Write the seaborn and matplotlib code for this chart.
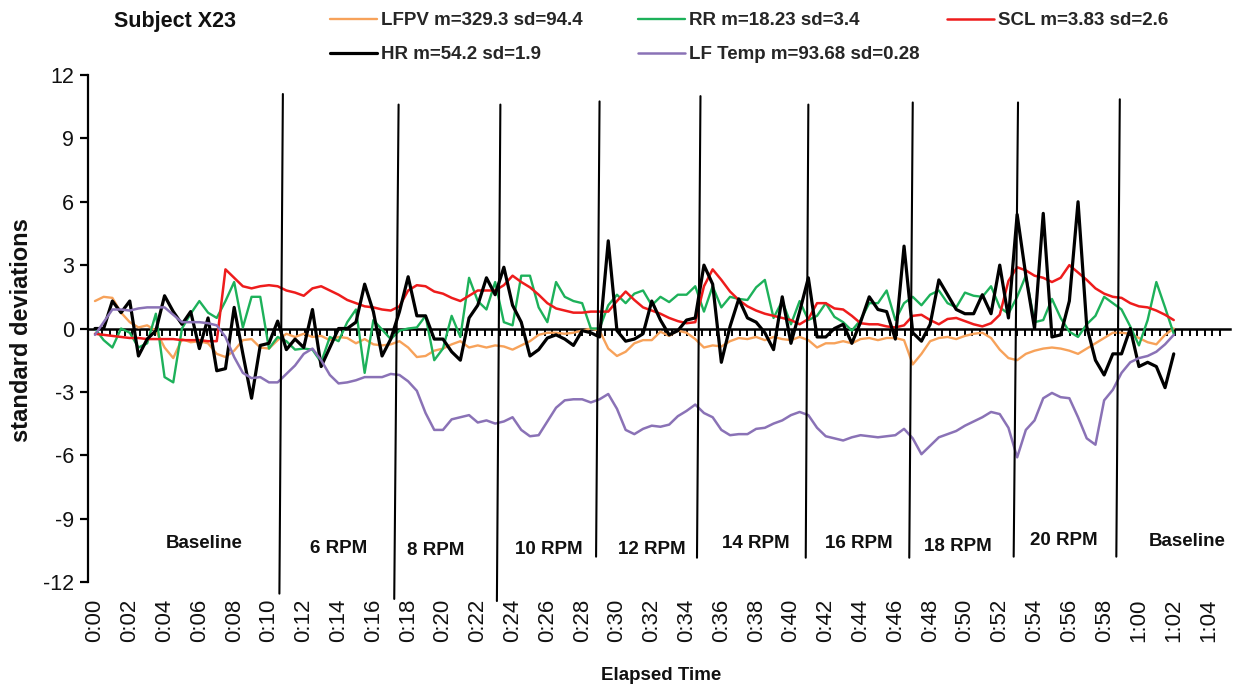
import numpy as np
import pandas as pd
import matplotlib
matplotlib.use("Agg")
import matplotlib.pyplot as plt
import seaborn as sns

# samples every half minute, 0:00 .. 1:02
STEP = 0.5

lfpv = [1.3, 1.5, 1.45, 0.75, 0.3, 0.05, 0.15, -0.1, -0.9, -1.4,
        -0.5, -0.65, -0.6, -0.7, -1.2, -1.35, -1.05, -0.55, -0.5, -0.9,
        -0.95, -0.55, -0.25, -0.4, -0.25, -0.4, -0.35, -0.55, -0.4, -0.45,
        -0.7, -0.5, -0.75, -0.8, -0.75, -0.6, -0.9, -1.35, -1.3, -1.05,
        -0.95, -0.75, -0.6, -0.9, -0.8, -0.9, -0.8, -0.85, -1.0, -0.8,
        -0.6, -0.3, -0.2, -0.2, -0.25, -0.2, -0.1, 0.0, -0.1, -0.95,
        -1.3, -1.1, -0.7, -0.55, -0.55, -0.15, -0.35, -0.1, -0.2, -0.5,
        -0.9, -0.8, -0.85, -0.6, -0.45, -0.5, -0.4, -0.55, -0.4, -0.5,
        -0.55, -0.4, -0.55, -0.9, -0.7, -0.7, -0.6, -0.7, -0.5, -0.45,
        -0.55, -0.45, -0.45, -0.55, -1.7, -1.2, -0.6, -0.45, -0.4, -0.5,
        -0.35, -0.25, -0.2, -0.45, -1.0, -1.4, -1.5, -1.2, -1.05, -0.95,
        -0.9, -0.95, -1.05, -1.2, -0.95, -0.7, -0.45, -0.2, -0.2, -0.25,
        -0.45, -0.65, -0.75, -0.3, 0.0]

rr = [0.0, -0.55, -0.9, 0.0, -0.2, -0.9, -0.7, 0.7, -2.3, -2.55,
      0.0, 0.7, 1.3, 0.75, 0.5, 1.3, 2.2, 0.05, 1.5, 1.5,
      -0.95, -0.4, -0.6, -1.0, -0.95, -1.0, -1.6, -0.4, -0.6, 0.3,
      0.9, -2.1, 0.4, -0.05, -0.5, -0.1, 0.0, 0.05, 0.6, -1.5,
      -0.95, 0.6, -0.4, 2.4, 1.3, 0.9, 2.2, 0.3, 0.15, 2.5,
      2.5, 1.0, 0.3, 2.2, 1.5, 1.3, 1.2, 0.0, 0.0, 1.1,
      1.6, 1.2, 1.65, 1.8, 1.1, 1.5, 1.25, 1.6, 1.6, 2.0,
      0.8, 2.0, 1.0, 1.5, 1.4, 1.35, 1.95, 2.3, 0.5, 1.3,
      0.2, 1.3, 0.4, 0.6, 1.2, 0.55, 0.3, -0.1, 0.4, 1.2,
      1.2, 1.8, 0.4, 1.2, 1.5, 1.1, 1.6, 1.8, 1.2, 1.0,
      1.7, 1.55, 1.5, 2.0, 1.0, 0.7, 1.5, 2.5, 0.3, 0.4,
      1.4, 0.5, -0.15, -0.4, 0.2, 0.6, 1.5, 1.2, 0.9, 0.1,
      -0.8, 0.4, 2.2, 1.0, -0.25]

scl = [-0.25, -0.3, -0.35, -0.4, -0.45, -0.45, -0.5, -0.5, -0.5, -0.5,
       -0.55, -0.55, -0.55, -0.6, -0.6, 2.8, 2.4, 2.0, 1.9, 2.0,
       2.05, 2.0, 1.8, 1.7, 1.55, 1.9, 2.0, 1.8, 1.6, 1.35,
       1.2, 1.05, 1.0, 0.9, 0.85, 1.05, 1.8, 2.05, 2.0, 1.75,
       1.65, 1.45, 1.3, 1.55, 1.8, 1.8, 1.8, 2.05, 2.5, 2.2,
       1.95, 1.6, 1.2, 0.95, 0.85, 0.75, 0.75, 0.8, 0.8, 0.8,
       1.3, 1.75, 1.35, 1.0, 0.85, 0.7, 0.5, 0.35, 0.25, 0.3,
       2.0, 2.8, 2.3, 1.75, 1.35, 1.05, 0.85, 0.7, 0.6, 0.5,
       0.4, 0.2, 0.45, 1.2, 1.2, 0.95, 0.9, 0.6, 0.25, 0.2,
       0.2, 0.1, 0.05, 0.15, 0.6, 0.65, 0.4, 0.2, 0.45, 0.5,
       0.35, 0.2, 0.1, 0.25, 0.65, 2.25, 2.9, 2.75, 2.5, 2.4,
       2.2, 2.4, 3.0, 2.65, 2.3, 1.9, 1.65, 1.5, 1.45, 1.2,
       1.05, 1.0, 0.85, 0.65, 0.4]

hr = [0.0, 0.0, 1.3, 0.75, 1.3, -1.3, -0.5, -0.1, 1.55, 0.8,
      0.2, 0.8, -0.95, 0.5, -2.0, -1.9, 1.0, -1.2, -3.3, -0.8,
      -0.7, 0.35, -1.0, -0.5, -0.9, 0.9, -1.8, -0.9, 0.0, 0.0,
      0.3, 2.1, 0.8, -1.3, -0.5, 0.8, 2.45, 0.6, 0.6, -0.5,
      -0.5, -1.1, -1.5, 0.5, 1.1, 2.4, 1.6, 2.9, 1.1, 0.3,
      -1.3, -1.0, -0.45, -0.3, -0.5, -0.8, -0.1, -0.2, -0.4, 4.15,
      -0.1, -0.6, -0.5, -0.25, 1.3, 0.4, -0.3, -0.1, 0.4, 0.5,
      3.0, 2.1, -1.6, 0.1, 1.4, 0.5, 0.3, -0.2, -1.0, 1.5,
      -0.7, 0.8, 2.4, -0.4, -0.4, 0.0, 0.2, -0.7, 0.3, 1.5,
      0.9, 0.8, -0.5, 3.9, -0.2, -0.6, 0.2, 2.3, 1.6, 0.9,
      0.7, 0.7, 1.6, 0.7, 3.0, 0.5, 5.4, 2.5, 0.0, 5.45,
      -0.4, -0.3, 1.3, 6.0, 0.1, -1.5, -2.2, -1.2, -1.2, 0.0,
      -1.8, -1.6, -1.8, -2.8, -1.2]

lf_temp = [-0.3, 0.3, 0.9, 0.9, 0.85, 0.95, 1.0, 1.0, 1.0, 0.65,
           0.3, 0.3, 0.3, 0.25, 0.15, -0.4, -1.35, -2.1, -2.35, -2.3,
           -2.55, -2.55, -2.15, -1.75, -1.2, -0.95, -1.5, -2.2, -2.6, -2.55,
           -2.45, -2.3, -2.3, -2.3, -2.15, -2.2, -2.5, -2.95, -4.0, -4.8,
           -4.8, -4.3, -4.2, -4.1, -4.45, -4.35, -4.5, -4.4, -4.2, -4.8,
           -5.1, -5.05, -4.4, -3.75, -3.4, -3.35, -3.35, -3.5, -3.35, -3.1,
           -3.8, -4.8, -5.0, -4.75, -4.6, -4.65, -4.55, -4.15, -3.9, -3.6,
           -4.0, -4.2, -4.8, -5.05, -5.0, -5.0, -4.75, -4.7, -4.5, -4.35,
           -4.1, -3.95, -4.1, -4.7, -5.1, -5.2, -5.3, -5.15, -5.05, -5.1,
           -5.15, -5.1, -5.05, -4.75, -5.2, -5.95, -5.55, -5.15, -5.0, -4.85,
           -4.6, -4.4, -4.2, -3.95, -4.05, -4.7, -6.1, -4.8, -4.35, -3.3,
           -3.05, -3.25, -3.3, -4.2, -5.2, -5.5, -3.4, -2.9, -2.1, -1.6,
           -1.4, -1.3, -1.1, -0.75, -0.3]

series = [lfpv, rr, scl, hr, lf_temp]
series_labels = ["LFPV m=329.3 sd=94.4", "RR m=18.23 sd=3.4",
                 "SCL m=3.83 sd=2.6", "HR m=54.2 sd=1.9",
                 "LF Temp m=93.68 sd=0.28"]
series_colors = ["#F7A25A", "#1DB15A", "#EE1C1C", "#000000", "#8A72B6"]
series_widths = [1.7, 1.7, 1.8, 2.3, 1.8]

# protocol phases: label positions and the hand drawn divider lines
phase_names = ["Baseline", "6 RPM", "8 RPM", "10 RPM", "12 RPM", "14 RPM",
               "16 RPM", "18 RPM", "20 RPM", "Baseline"]
phase_label_t = [6.3, 14.0, 19.6, 26.1, 32.0, 38.0, 43.9, 49.6, 55.7, 62.8]
phase_label_y = [-10.2, -10.4, -10.5, -10.45, -10.45, -10.2, -10.2, -10.3,
                 -10.05, -10.1]

divider_top_t = [10.8, 17.45, 23.3, 29.0, 34.8, 41.0, 47.0, 53.05, 58.9]
divider_bot_t = [10.6, 17.2, 23.1, 28.8, 34.6, 40.85, 46.8, 52.8, 58.7]
divider_top_y = [11.1, 10.6, 10.6, 10.75, 11.0, 10.6, 10.7, 10.7, 10.85]
divider_bot_y = [-12.55, -12.8, -12.9, -10.8, -10.85, -10.85, -10.85, -10.8,
                 -10.8]

xtick_minutes = list(range(0, 65, 2))
xtick_labels = ["{}:{:02d}".format(m // 60, m % 60) for m in xtick_minutes]
ytick_values = list(range(-12, 13, 3))

sns.set_theme(style="white")
plt.rcParams["font.family"] = ["Liberation Sans", "DejaVu Sans"]

fig = plt.figure(figsize=(12.36, 6.9), dpi=100)
ax = fig.add_axes([0.0712, 0.1565, 0.9239, 0.7348])

handles = []
for vals, lab, col, lw in zip(series, series_labels, series_colors,
                              series_widths):
    t = np.arange(len(vals)) * STEP
    sns.lineplot(x=t, y=vals, ax=ax, color=col, linewidth=lw,
                 label=lab, legend=False)
    handles.append(ax.lines[-1])

for tt, bt, ty, by in zip(divider_top_t, divider_bot_t,
                          divider_top_y, divider_bot_y):
    ax.plot([tt, bt], [ty, by], color="black", linewidth=1.5,
            clip_on=False, zorder=4)

for name, pt, py in zip(phase_names, phase_label_t, phase_label_y):
    ax.text(pt, py, name, ha="center", va="center", fontsize=13.5,
            fontweight="bold", color="#111111")

ax.set_xlim(-0.4, 65.23)
ax.set_ylim(-12, 12)

for side in ["top", "right", "bottom"]:
    ax.spines[side].set_visible(False)
ax.spines["left"].set_color("black")
ax.spines["left"].set_linewidth(1.6)

ax.set_yticks(ytick_values)
ax.set_yticklabels([str(v) for v in ytick_values])
ax.tick_params(axis="y", left=True, direction="out", length=6, width=1.6,
               color="black", labelsize=15.5, pad=4, labelcolor="#111111")

ax.set_xticks(xtick_minutes)
ax.set_xticklabels(xtick_labels, rotation=90)
ax.tick_params(axis="x", bottom=False, length=0, labelsize=16, pad=12,
               labelcolor="#111111")
ax.set_xlabel("")
ax.set_ylabel("")

# x axis line crosses at zero with small tick marks
zero_axis = ax.secondary_xaxis(0.5)
zero_axis.set_alignment("bottom")
zero_axis.set_xticks(np.arange(0.43, 65.0, 0.431))
zero_axis.tick_params(axis="x", bottom=True, direction="out", length=5,
                      width=1.4, color="black", labelbottom=False)
zero_axis.spines["bottom"].set_color("black")
zero_axis.spines["bottom"].set_linewidth(1.8)

# legend in three columns, like the spreadsheet one
legend_cols = [[0, 3], [1, 4], [2]]
legend_x = [330, 638, 947]
for idx, lx in zip(legend_cols, legend_x):
    fig.legend(handles=[handles[i] for i in idx],
               labels=[series_labels[i] for i in idx],
               loc="upper left", bbox_to_anchor=(lx / 1236, 1 - 12 / 690),
               frameon=False, prop={"size": 13.5, "weight": "bold"},
               handlelength=2.5, handletextpad=0.2, labelspacing=0.9,
               borderpad=0, borderaxespad=0)

fig.text(175 / 1236, 1 - 22 / 690, "Subject X23", ha="center", va="center",
         fontsize=15.5, fontweight="bold", color="#111111")
fig.text(22 / 1236, 1 - 330 / 690, "standard deviations", rotation=90,
         ha="center", va="center", fontsize=17, fontweight="bold",
         color="#111111")
fig.text(661 / 1236, 1 - 675 / 690, "Elapsed Time", ha="center",
         va="center", fontsize=13.5, fontweight="bold", color="#111111")

fig.savefig("out.png", dpi=100)
